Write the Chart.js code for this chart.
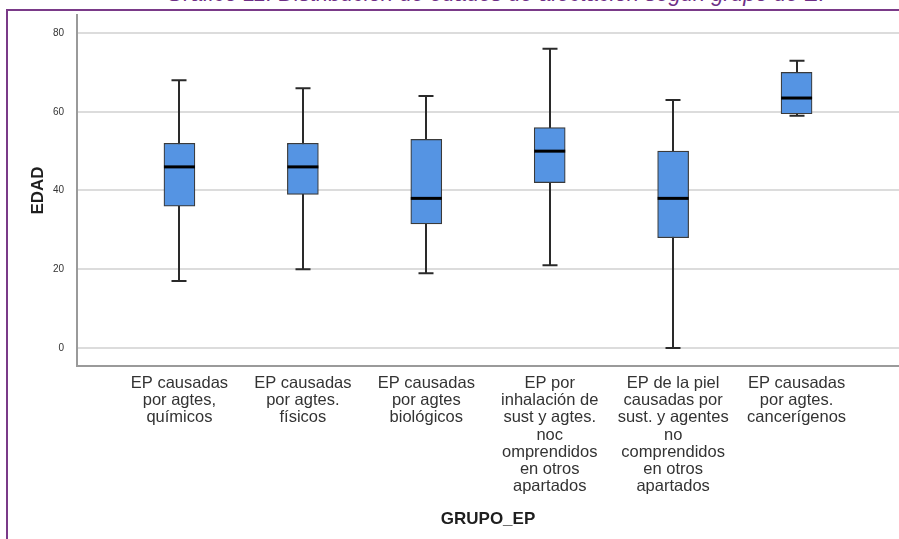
<!DOCTYPE html>
<html lang="es">
<head>
<meta charset="utf-8">
<title>Distribución de edades según grupo de EP</title>
<script src="https://cdn.jsdelivr.net/npm/chart.js@4.4.1/dist/chart.umd.min.js"></script>
<style>
  html, body { margin: 0; padding: 0; background: #fff; overflow: hidden; }
  #wrap { position: relative; width: 899px; height: 539px; overflow: hidden; }
  #frame {
    position: absolute; left: 6px; top: 9px; right: -10px; bottom: -10px;
    border-left: 2px solid #7a3a88; border-top: 2px solid #7a3a88;
  }
  #caption {
    position: absolute; left: 0; width: 1000px; top: -17px;
    font: italic 22px "Liberation Sans", Arial, sans-serif; line-height: 22px;
    color: #6e2f86; text-align: center; white-space: nowrap;
  }
  canvas { position: absolute; left: 0; top: 0; }
</style>
</head>
<body>
<div id="wrap">
  <div id="caption">Gráfico 11. Distribución de edades de afectación según grupo de EP</div>
  <div id="frame"></div>
  <canvas id="chart" width="899" height="539"></canvas>
</div>
<script>
// Groups of occupational disease (EP), one label per box, split into lines
const categories = [
  ['EP causadas', 'por agtes,', 'químicos'],
  ['EP causadas', 'por agtes.', 'físicos'],
  ['EP causadas', 'por agtes', 'biológicos'],
  ['EP por', 'inhalación de', 'sust y agtes.', 'noc', 'omprendidos', 'en otros', 'apartados'],
  ['EP de la piel', 'causadas por', 'sust. y agentes', 'no', 'comprendidos', 'en otros', 'apartados'],
  ['EP causadas', 'por agtes.', 'cancerígenos']
];

// Age summary per group (years)
const edadMin     = [17, 20, 19, 21, 0, 59];
const edadQ1      = [36, 39, 31.5, 42, 28, 59.5];
const edadMediana = [46, 46, 38, 50, 38, 63.5];
const edadQ3      = [52, 52, 53, 56, 50, 70];
const edadMax     = [68, 66, 64, 76, 63, 73];

const yTicks = [0, 20, 40, 60, 80];

const FONT = '"Liberation Sans", Arial, Helvetica, sans-serif';

// Whiskers and caps go under the boxes, the median line on top of them
const boxWhiskers = {
  id: 'boxWhiskers',
  beforeDatasetsDraw(chart) {
    const { ctx, scales: { x, y } } = chart;
    const capHalf = 7.5;
    ctx.save();
    ctx.strokeStyle = '#2a2a2a';
    ctx.lineWidth = 2;
    categories.forEach((_, i) => {
      const cx = Math.round(x.getPixelForValue(i + 1));
      const top = y.getPixelForValue(edadMax[i]);
      const bot = y.getPixelForValue(edadMin[i]);
      ctx.beginPath();
      ctx.moveTo(cx, top); ctx.lineTo(cx, bot);
      ctx.moveTo(cx - capHalf, top); ctx.lineTo(cx + capHalf, top);
      ctx.moveTo(cx - capHalf, bot); ctx.lineTo(cx + capHalf, bot);
      ctx.stroke();
    });
    ctx.restore();
  },
  afterDatasetsDraw(chart) {
    const { ctx, scales: { y } } = chart;
    const meta = chart.getDatasetMeta(0);
    ctx.save();
    ctx.strokeStyle = '#000';
    ctx.lineWidth = 3;
    meta.data.forEach((bar, i) => {
      const half = bar.width / 2;
      const my = y.getPixelForValue(edadMediana[i]);
      ctx.beginPath();
      ctx.moveTo(bar.x - half, my);
      ctx.lineTo(bar.x + half, my);
      ctx.stroke();
    });
    ctx.restore();
  }
};

new Chart(document.getElementById('chart'), {
  type: 'bar',
  data: {
    datasets: [{
      label: 'EDAD',
      data: categories.map((_, i) => ({ x: i + 1, y: [edadQ1[i], edadQ3[i]] })),
      backgroundColor: '#5594e3',
      borderColor: '#3a3a3a',
      borderWidth: 1.2,
      borderSkipped: false,
      barThickness: 31
    }]
  },
  plugins: [boxWhiskers],
  options: {
    responsive: false,
    animation: false,
    events: [],
    layout: { padding: { top: 15, right: 0, bottom: 0, left: 0 } },
    plugins: { legend: { display: false }, tooltip: { enabled: false } },
    scales: {
      x: {
        type: 'linear',
        min: 0.17,
        max: 6.83,
        offset: false,
        grid: { display: false, drawTicks: false },
        border: { display: true, color: '#9a9a9a', width: 2 },
        afterBuildTicks: s => { s.ticks = categories.map((_, i) => ({ value: i + 1 })); },
        afterFit: s => { s.height = 173; },
        ticks: {
          autoSkip: false,
          maxRotation: 0,
          minRotation: 0,
          padding: 9,
          color: '#333',
          font: { family: FONT, size: 16.5, lineHeight: 1.04 },
          callback: v => categories[Math.round(v) - 1]
        },
        title: {
          display: true,
          text: 'GRUPO_EP',
          color: '#1e1e1e',
          font: { family: FONT, size: 17, weight: 'bold', lineHeight: 1.2 },
          padding: { top: 0, bottom: 9 }
        }
      },
      y: {
        min: -4.6,
        max: 84.6,
        grid: { color: '#dcdcdc', lineWidth: 2, drawTicks: false },
        border: { display: true, color: '#9a9a9a', width: 2 },
        afterBuildTicks: s => { s.ticks = yTicks.map(v => ({ value: v })); },
        afterFit: s => { s.width = 77; s.paddingTop = 0; s.paddingBottom = 0; },
        ticks: {
          padding: 13,
          color: '#333',
          font: { family: FONT, size: 10 }
        },
        title: {
          display: true,
          text: 'EDAD',
          color: '#1e1e1e',
          font: { family: FONT, size: 17, weight: 'bold', lineHeight: 1.2 },
          padding: { top: 28, bottom: 0 }
        }
      }
    }
  }
});
</script>
</body>
</html>
